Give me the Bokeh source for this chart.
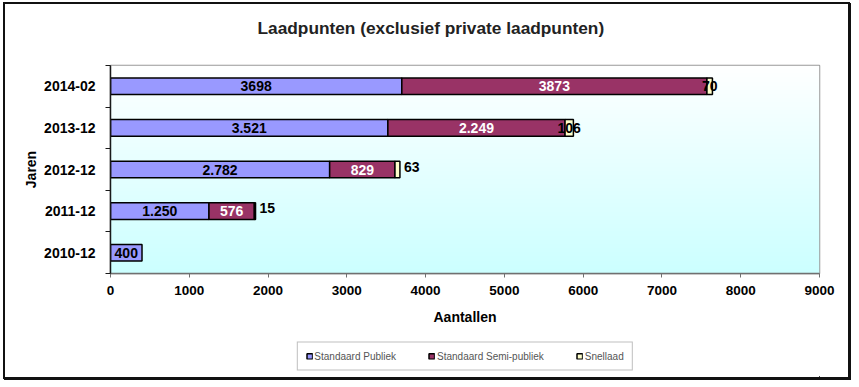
import numpy as np
from bokeh.plotting import figure
from bokeh.layouts import column
from bokeh.models import (ColumnDataSource, FixedTicker, Range1d, Legend, LegendItem,
                          Title)
from bokeh.core.properties import value
from bokeh.embed import file_html
from bokeh.resources import INLINE

# ---- data (top to bottom as in the chart) ----
categories = ["2014-02", "2013-12", "2012-12", "2011-12", "2010-12"]
publiek = [3698, 3521, 2782, 1250, 400]
semi_publiek = [3873, 2249, 829, 576, 0]
snellaad = [70, 106, 63, 15, 0]
publiek_labels = ["3698", "3.521", "2.782", "1.250", "400"]
semi_labels = ["3873", "2.249", "829", "576", ""]
snel_labels = ["70", "106", "63", "15", ""]
snel_label_inside = [True, True, False, False, False]
x_ticks = [0, 1000, 2000, 3000, 4000, 5000, 6000, 7000, 8000, 9000]
series_names = ["Standaard Publiek", "Standaard Semi-publiek", "Snellaad"]
series_colors = ["#9999FF", "#993366", "#FFFFCC"]
title_text = "Laadpunten (exclusief private laadpunten)"

FONT = "Liberation Sans"
n = len(categories)
ypos = np.arange(n)[::-1].astype(float)  # first category on top

pub = np.array(publiek, dtype=float)
semi = np.array(semi_publiek, dtype=float)
snel = np.array(snellaad, dtype=float)
left1, right1 = np.zeros(n), pub
left2, right2 = right1, right1 + semi
left3, right3 = right2, right2 + snel
lefts = [left1, left2, left3]
rights = [right1, right2, right3]

x_range = Range1d(0, 9000)
y_range = Range1d(-0.5, n - 0.5)

W = 843
ML, MR = 105, 29

# ---- title strip ----
tt = figure(width=W, height=55, output_backend="svg", toolbar_location=None,
            x_range=Range1d(0, 1), y_range=Range1d(0, 1), title=None,
            min_border_left=ML, min_border_right=MR,
            min_border_top=0, min_border_bottom=0)
tt.axis.visible = False
tt.grid.visible = False
tt.outline_line_color = None
tt.border_fill_color = "white"
tt.background_fill_color = "white"
ttl = Title(text=title_text, align="left", offset=147, text_font=FONT,
            text_font_size="17.3px", text_font_style="bold", text_color="#222222",
            standoff=22)
tt.add_layout(ttl, "above")

# ---- main chart ----
p = figure(width=W, height=331 - 55, output_backend="svg", toolbar_location=None,
           x_range=x_range, y_range=y_range, title=None,
           min_border_left=ML, min_border_right=MR,
           min_border_top=6, min_border_bottom=62)

# gradient background of the plot area
rows = 200
img = np.empty((rows, 1), dtype=np.uint32)
view = img.view(dtype=np.uint8).reshape((rows, 1, 4))
t = np.linspace(0, 1, rows)  # 0 bottom -> 1 top
view[:, 0, 0] = (204 + (255 - 204) * t).astype(np.uint8)
view[:, 0, 1] = 255
view[:, 0, 2] = 255
view[:, 0, 3] = 255
p.image_rgba(image=[img], x=x_range.start, y=y_range.start,
             dw=x_range.end - x_range.start, dh=y_range.end - y_range.start)

bar_h = 0.4
bar_style = dict(line_color="black", line_width=1.5)
p.hbar(y=ypos, left=left1, right=right1, height=bar_h,
       fill_color=series_colors[0], **bar_style)
mask2 = semi > 0
p.hbar(y=ypos[mask2], left=left2[mask2], right=right2[mask2], height=bar_h,
       fill_color=series_colors[1], **bar_style)
mask3 = snel > 0
p.hbar(y=ypos[mask3], left=left3[mask3], right=right3[mask3], height=bar_h,
       fill_color=series_colors[2], **bar_style)

common = dict(text_font=value(FONT), text_font_style="bold", text_font_size="14px",
              text_baseline="middle")

src1 = ColumnDataSource(dict(x=(left1 + right1) / 2, y=ypos, t=publiek_labels))
p.text(x="x", y="y", text="t", source=src1, text_align="center",
       text_color="black", **common)

src2 = ColumnDataSource(dict(x=((left2 + right2) / 2)[mask2], y=ypos[mask2],
                             t=[s for s, m in zip(semi_labels, mask2) if m]))
p.text(x="x", y="y", text="t", source=src2, text_align="center",
       text_color="white", **common)

inside = np.array(snel_label_inside) & mask3
outside = (~np.array(snel_label_inside)) & mask3
src3a = ColumnDataSource(dict(x=((left3 + right3) / 2)[inside], y=ypos[inside],
                              t=[s for s, m in zip(snel_labels, inside) if m]))
p.text(x="x", y="y", text="t", source=src3a, text_align="center",
       text_color="black", **common)
src3b = ColumnDataSource(dict(x=right3[outside], y=ypos[outside],
                              t=[s for s, m in zip(snel_labels, outside) if m]))
p.text(x="x", y="y", text="t", source=src3b, text_align="left",
       x_offset=4, y_offset=-3, text_color="black", **common)

# axes
p.grid.visible = False
p.outline_line_color = "#999999"
p.outline_line_width = 1.5
p.background_fill_color = "white"
p.border_fill_color = "white"

xa = p.xaxis[0]
xa.ticker = FixedTicker(ticks=x_ticks)
xa.axis_line_color = "#707070"
xa.axis_line_width = 1.5
xa.major_tick_line_color = "#707070"
xa.major_tick_in = 0
xa.major_tick_out = 4
xa.minor_tick_line_color = None
xa.major_label_text_font = FONT
xa.major_label_text_font_style = "bold"
xa.major_label_text_font_size = "13.5px"
xa.major_label_text_color = "black"
xa.major_label_standoff = 8
xa.axis_label = "Aantallen"
xa.axis_label_text_font = FONT
xa.axis_label_text_font_style = "bold"
xa.axis_label_text_font_size = "14px"
xa.axis_label_text_color = "black"
xa.axis_label_standoff = 11

ya = p.yaxis[0]
boundaries = [y + 0.5 for y in range(-1, n)]
ya.ticker = FixedTicker(ticks=list(ypos), minor_ticks=boundaries)
ya.major_label_overrides = {float(y): c for y, c in zip(ypos, categories)}
ya.axis_line_color = "#1a1a1a"
ya.axis_line_width = 1.5
ya.major_tick_in = 0
ya.major_tick_out = 0
ya.minor_tick_in = 0
ya.minor_tick_out = 5
ya.minor_tick_line_color = "#1a1a1a"
ya.major_label_text_font = FONT
ya.major_label_text_font_style = "bold"
ya.major_label_text_font_size = "14px"
ya.major_label_text_color = "black"
ya.major_label_standoff = 10
ya.axis_label = "Jaren"
ya.axis_label_text_font = FONT
ya.axis_label_text_font_style = "bold"
ya.axis_label_text_font_size = "14px"
ya.axis_label_text_color = "black"
ya.axis_label_standoff = 2

# ---- legend strip below the chart (its series glyphs lie outside its view) ----
q = figure(width=W, height=42, output_backend="svg", toolbar_location=None,
           x_range=Range1d(-20000, -19000), y_range=Range1d(100, 101), title=None,
           min_border_left=ML, min_border_right=MR,
           min_border_top=0, min_border_bottom=0)
q.axis.visible = False
q.grid.visible = False
q.outline_line_color = None
q.border_fill_color = "white"
q.background_fill_color = "white"
lr = [q.hbar(y=ypos, left=lf, right=rt, height=bar_h, fill_color=c, **bar_style)
      for lf, rt, c in zip(lefts, rights, series_colors)]
legend = Legend(items=[LegendItem(label=nm, renderers=[r])
                       for nm, r in zip(series_names, lr)],
                orientation="horizontal", location="center")
legend.border_line_color = "#808080"
legend.border_line_width = 1.5
legend.background_fill_color = "white"
legend.label_text_font = FONT
legend.label_text_font_size = "10px"
legend.label_text_color = "#555555"
legend.glyph_width = 7
legend.glyph_height = 7
legend.label_standoff = 2
legend.spacing = 32
legend.padding = 8
legend.margin = 0
q.add_layout(legend, "center")

layout = column(tt, p, q, spacing=0,
                styles={"border": "2px solid #111111",
                        "box-shadow": "1px 1px 0 #111111",
                        "margin": "2px 0 0 3px"})

open("out.html", "w").write(file_html(layout, INLINE))
